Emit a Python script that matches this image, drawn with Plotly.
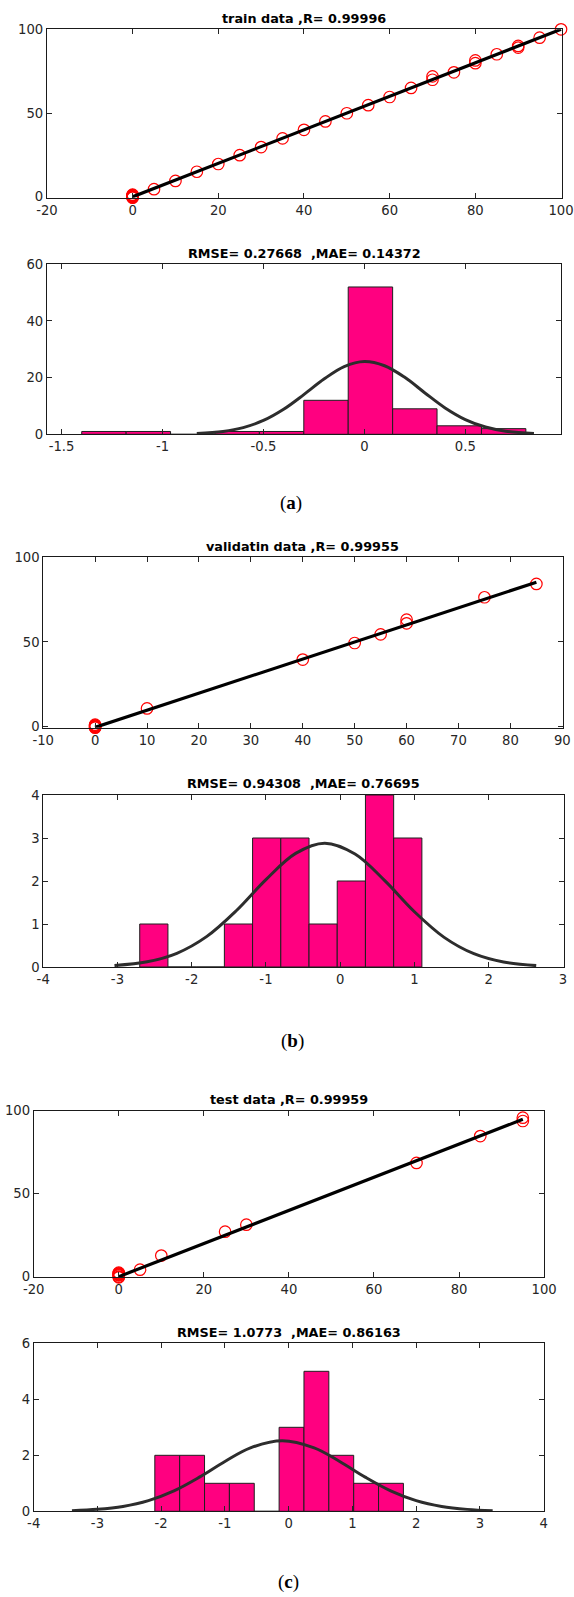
import plotly.graph_objects as go

W, H = 574, 1597

# ---------------- data ----------------
# (a) train
train_target = [0, 0, 0, 0, 0, 0, 0, 0, 0, 0, 5, 10, 15, 20, 25, 30, 35, 40, 45, 50, 55, 60,
                65, 70, 70, 75, 80, 80, 85, 90, 90, 95, 100]
train_output = [0, 0.5, -0.3, 0.8, 1.0, -0.5, 0.2, 0.6, -0.8, 1.3, 4.6, 9.5, 15.0, 19.6, 24.9,
                29.7, 34.9, 40.0, 45.0, 49.9, 54.7, 59.6, 65.0, 71.9, 69.9, 74.3, 81.4, 79.8,
                85.1, 90.1, 89.1, 95.0, 100]
train_fit_x = [0, 100]
train_fit_y = [0, 100]
train_err_edges = [-1.40, -1.18, -0.96, -0.74, -0.52, -0.30, -0.08, 0.14, 0.36, 0.58, 0.80]
train_err_counts = [1, 1, 0, 1, 1, 12, 52, 9, 3, 2]
train_curve_x = [-0.83, -0.7, -0.6, -0.5, -0.4, -0.3, -0.2, -0.1, 0.0, 0.1, 0.2, 0.3, 0.4,
                 0.5, 0.6, 0.7, 0.84]
train_curve_y = [0.27, 1.01, 2.37, 4.88, 8.83, 14.0, 19.5, 23.9, 25.7, 24.2, 20.1, 14.6,
                 9.3, 5.2, 2.56, 1.10, 0.27]

# (b) validation
val_target = [0, 0, 0, 0, 0, 0, 0, 10, 40, 50, 55, 60, 60, 75, 85]
val_output = [0, -0.6, 0.5, -0.3, 0.8, -1.0, 1.2, 10.8, 39.6, 49.4, 54.5, 61.0, 63.2, 76.4, 84.3]
val_fit_x = [0, 85]
val_fit_y = [-0.4, 85.3]
val_err_edges = [-2.70, -2.32, -1.94, -1.56, -1.18, -0.80, -0.42, -0.04, 0.34, 0.72, 1.10]
val_err_counts = [1, 0, 0, 1, 3, 3, 1, 2, 4, 3]
val_curve_x = [-3.04, -2.6, -2.2, -1.8, -1.4, -1.0, -0.6, -0.207, 0.2, 0.6, 1.0, 1.4, 1.8,
               2.2, 2.64]
val_curve_y = [0.034, 0.121, 0.319, 0.706, 1.308, 2.033, 2.643, 2.88, 2.627, 2.008, 1.285,
               0.689, 0.309, 0.116, 0.032]

# (c) test
test_target = [0, 0, 0, 0, 0, 0, 0, 5, 10, 25, 30, 70, 85, 95, 95]
test_output = [0, 0.8, 1.6, 2.4, -0.4, 1.2, 2.0, 4.2, 12.7, 27.1, 31.3, 68.5, 84.7, 95.8, 93.8]
test_fit_x = [0, 95]
test_fit_y = [0, 94.8]
test_err_edges = [-2.10, -1.71, -1.32, -0.93, -0.54, -0.15, 0.24, 0.63, 1.02, 1.41, 1.80]
test_err_counts = [2, 2, 1, 1, 0, 3, 5, 2, 1, 1]
test_curve_x = [-3.4, -3.0, -2.6, -2.2, -1.8, -1.4, -1.0, -0.6, -0.1, 0.4, 0.8, 1.2, 1.6,
                2.0, 2.4, 2.8, 3.2]
test_curve_y = [0.024, 0.069, 0.173, 0.381, 0.730, 1.221, 1.781, 2.264, 2.52, 2.264, 1.781,
                1.221, 0.730, 0.381, 0.173, 0.069, 0.024]

# titles / captions
titles = ["train data ,R= 0.99996", "RMSE= 0.27668  ,MAE= 0.14372",
          "validatin data ,R= 0.99955", "RMSE= 0.94308  ,MAE= 0.76695",
          "test data ,R= 0.99959", "RMSE= 1.0773  ,MAE= 0.86163"]
captions = ["a", "b", "c"]

# tick labels
reg1_xticks = [-20, 0, 20, 40, 60, 80, 100]
reg_yticks = [0, 50, 100]
hist1_xticks = [-1.5, -1, -0.5, 0, 0.5]
hist1_yticks = [0, 20, 40, 60]
reg2_xticks = [-10, 0, 10, 20, 30, 40, 50, 60, 70, 80, 90]
hist2_xticks = [-4, -3, -2, -1, 0, 1, 2, 3]
hist2_yticks = [0, 1, 2, 3, 4]
reg3_xticks = [-20, 0, 20, 40, 60, 80, 100]
hist3_xticks = [-4, -3, -2, -1, 0, 1, 2, 3, 4]
hist3_yticks = [0, 2, 4, 6]

# ---------------- layout geometry (reference pixels) ----------------
# (left, right, top, bottom)
boxes = [
    (46.9, 561.9, 29.3, 197.7),
    (46.9, 561.2, 264.3, 434.3),
    (43.2, 562.6, 557.3, 727.7),
    (43.2, 563.7, 795.0, 967.0),
    (33.7, 544.3, 1110.7, 1277.3),
    (33.7, 544.3, 1343.3, 1511.3),
]
title_y = [18.3, 253.0, 546.7, 783.3, 1099.3, 1332.3]
caption_pos = [(291, 503), (292, 1041), (288, 1582)]

xranges = [[-20, 100.2], [-1.5725, 0.975], [-10, 90.05], [-4, 3.01], [-20, 100.05], [-4, 4.01]]
yranges = [[-0.5, 100], [0, 60], [-0.6, 100], [0, 4], [-0.4, 100], [0, 6]]
xtickvals = [reg1_xticks, hist1_xticks, reg2_xticks, hist2_xticks, reg3_xticks, hist3_xticks]
ytickvals = [reg_yticks, hist1_yticks, reg_yticks, hist2_yticks, reg_yticks, hist3_yticks]


def px_x(p):
    return p / W


def px_y(p):
    return 1 - p / H


FONT = "DejaVu Sans"
TICKC = "#262626"
PINK = "#FF0080"
TICKSIZE = 13.2
TITLESIZE = 12.8

fig = go.Figure()


def ax_name(i, kind):
    return kind if i == 0 else f"{kind}{i + 1}"


def ref(i, kind):
    return kind[0] if i == 0 else f"{kind[0]}{i + 1}"


def fmt(v):
    return f"{v:g}"


reg_sets = [(train_target, train_output, train_fit_x, train_fit_y),
            (val_target, val_output, val_fit_x, val_fit_y),
            (test_target, test_output, test_fit_x, test_fit_y)]
hist_sets = [(train_err_edges, train_err_counts, train_curve_x, train_curve_y),
             (val_err_edges, val_err_counts, val_curve_x, val_curve_y),
             (test_err_edges, test_err_counts, test_curve_x, test_curve_y)]

for k in range(3):
    i = 2 * k
    tx, ty, fx, fy = reg_sets[k]
    fig.add_trace(go.Scatter(x=tx, y=ty, mode="markers",
                             marker=dict(symbol="circle-open", size=11.5, color="#FF0000",
                                         line=dict(width=1.2, color="#FF0000")),
                             xaxis=ref(i, "x"), yaxis=ref(i, "y"), cliponaxis=False,
                             showlegend=False))
    fig.add_trace(go.Scatter(x=fx, y=fy, mode="lines", line=dict(color="black", width=3.2),
                             xaxis=ref(i, "x"), yaxis=ref(i, "y"), cliponaxis=False,
                             showlegend=False))
    j = 2 * k + 1
    edges, counts, cx, cy = hist_sets[k]
    centers = [(edges[m] + edges[m + 1]) / 2 for m in range(len(counts))]
    widths = [edges[m + 1] - edges[m] for m in range(len(counts))]
    fig.add_trace(go.Bar(x=centers, y=counts, width=widths,
                         marker=dict(color=PINK, line=dict(color="#1e1e1e", width=1)),
                         xaxis=ref(j, "x"), yaxis=ref(j, "y"), showlegend=False))
    fig.add_trace(go.Scatter(x=cx, y=cy, mode="lines",
                             line=dict(color="#2d2d2d", width=3, shape="spline", smoothing=1),
                             xaxis=ref(j, "x"), yaxis=ref(j, "y"), cliponaxis=False,
                             showlegend=False))

layout = dict(width=W, height=H,
              margin=dict(l=0, r=0, t=0, b=0, pad=0, autoexpand=False),
              paper_bgcolor="white", plot_bgcolor="white", showlegend=False,
              bargap=0, font=dict(family=FONT, size=TICKSIZE, color=TICKC))

annotations = []
for i in range(6):
    l, r, t, b = boxes[i]
    common = dict(ticks="inside", ticklen=5, tickwidth=1, tickcolor=TICKC,
                  showline=True, linecolor="#1a1a1a", linewidth=1, mirror="ticks",
                  showgrid=False, zeroline=False, automargin=False,
                  tickfont=dict(family=FONT, size=TICKSIZE, color=TICKC), tickmode="array")
    xa = dict(domain=[px_x(l), px_x(r)], range=xranges[i], anchor=ref(i, "y"),
              tickvals=xtickvals[i], ticktext=[fmt(v) for v in xtickvals[i]], **common)
    ya = dict(domain=[px_y(b), px_y(t)], range=yranges[i], anchor=ref(i, "x"),
              tickvals=ytickvals[i], ticktext=[fmt(v) for v in ytickvals[i]], **common)
    layout[ax_name(i, "xaxis")] = xa
    layout[ax_name(i, "yaxis")] = ya
    annotations.append(dict(text=f"<b>{titles[i]}</b>", xref="paper", yref="paper",
                            x=px_x((l + r) / 2), y=px_y(title_y[i]),
                            xanchor="center", yanchor="middle", showarrow=False,
                            font=dict(family=FONT, size=TITLESIZE, color="black")))

for c, (cxp, cyp) in zip(captions, caption_pos):
    annotations.append(dict(text=f"(<b>{c}</b>)", xref="paper", yref="paper",
                            x=px_x(cxp), y=px_y(cyp), xanchor="center", yanchor="middle",
                            showarrow=False,
                            font=dict(family="Liberation Serif", size=19, color="black")))

layout["annotations"] = annotations
fig.update_layout(**layout)
fig.write_html("out.html",
               config={"displayModeBar": False, "staticPlot": True},
               post_script="document.body.style.margin='0px';"
                           "document.documentElement.style.overflow='hidden';")
